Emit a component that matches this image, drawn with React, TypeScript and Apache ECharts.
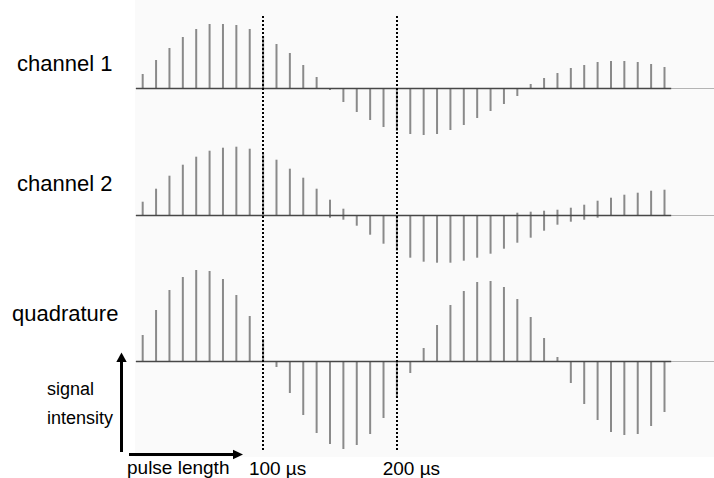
import React, { useEffect, useRef } from "react";
import * as echarts from "echarts";

// pulse length (µs) of each experiment
const pulseLengths = [
  10, 20, 30, 40, 50, 60, 70, 80, 90, 100,
  110, 120, 130, 140, 150, 160, 170, 180, 190, 200,
  210, 220, 230, 240, 250, 260, 270, 280, 290, 300,
  310, 320, 330, 340, 350, 360, 370, 380, 390, 400,
];

// signal intensity (arbitrary units)
const channel1 = [
  14, 28, 40, 51, 59, 64, 64, 63, 59, 52,
  44, 35, 23, 11, -2, -14, -24, -32, -39, -43,
  -46, -47, -46, -42, -37, -30, -23, -16, -8, 4,
  10, 15, 20, 23, 26, 27, 27, 26, 24, 21,
];
const channel2 = [
  14, 27, 40, 51, 59, 65, 68, 69, 67, 62,
  56, 47, 38, 27, 16, 7, -10, -19, -28, -35,
  -42, -46, -47, -47, -45, -42, -38, -33, -27, -22,
  -15, -9, 8, 11, 15, 18, 21, 23, 25, 26,
];
// opposite-sign (dispersive) part of the channel 2 lines
const channel2Dispersive = [
  0, 0, 0, 0, 0, 0, 0, 0, 0, 0,
  0, 0, 0, 0, -2, -4, 0, 0, 0, 0,
  0, 0, 0, 0, 0, 0, 0, 0, 3, 4,
  5, 6, -6, -4, -2, 0, 0, 0, 0, 0,
];
const quadrature = [
  26, 51, 71, 84, 91, 90, 82, 66, 45, 22,
  -6, -32, -54, -72, -83, -88, -84, -73, -57, -37,
  -12, 13, 36, 56, 70, 79, 80, 74, 62, 44,
  23, 4, -22, -43, -59, -71, -74, -73, -65, -51,
];

const rowLabels = ["channel 1", "channel 2", "quadrature"];
const markerTimes = [100, 200];
const markerUnit = "µs";
const xAxisTitle = "pulse length";
const yAxisTitle = ["signal", "intensity"];

const FONT = '"Liberation Sans", Arial, Helvetica, sans-serif';
const X_MIN = 5;
const X_MAX = 437;
const BASE_END = 405;
const SPIKE = "#8a8a8a";
const BASE = "#474747";

export default function App() {
  const ref = useRef<HTMLDivElement>(null);

  useEffect(() => {
    if (!ref.current) return;
    const chart = echarts.init(ref.current, null, { renderer: "svg" });

    const pts = (vals: number[]) => pulseLengths.map((t, i) => [t, vals[i]]);

    const rows = [
      { top: 18, height: 130, min: -60, max: 70 },
      { top: 145.7, height: 130, min: -60, max: 70 },
      { top: 261, height: 200, min: -100, max: 100 },
    ];

    const grids: any[] = rows.map((r) => ({
      left: 136,
      width: 578,
      top: r.top,
      height: r.height,
    }));
    grids.push({ left: 136, width: 578, top: 15, height: 437 });

    const xAxes: any[] = rows.map((_, i) => ({
      type: "value",
      gridIndex: i,
      min: X_MIN,
      max: X_MAX,
      axisLine: { show: true, onZero: true, lineStyle: { color: "#b4b4b4", width: 1 } },
      axisTick: { show: false },
      axisLabel: { show: false },
      splitLine: { show: false },
    }));
    xAxes.push({
      type: "value",
      gridIndex: 3,
      min: X_MIN,
      max: X_MAX,
      axisLine: { show: false },
      axisTick: { show: false },
      splitLine: { show: false },
      axisLabel: {
        show: true,
        customValues: markerTimes,
        margin: 9,
        formatter: (v: number) => `{pad|}{v|${v} ${markerUnit}}`,
        rich: {
          pad: { width: 29 },
          v: { fontFamily: FONT, fontSize: 19, color: "#000" },
        },
      },
    });

    const yAxes: any[] = rows.map((r, i) => ({
      type: "value",
      gridIndex: i,
      min: r.min,
      max: r.max,
      show: false,
    }));
    yAxes.push({ type: "value", gridIndex: 3, min: 0, max: 1, show: false });

    const baseLine = {
      silent: true,
      symbol: "none",
      label: { show: false },
      lineStyle: { color: BASE, width: 1.3, type: "solid" },
      data: [[{ coord: [X_MIN, 0] }, { coord: [BASE_END, 0] }]],
    };

    const barSeries = (name: string, idx: number, vals: number[], withBase: boolean) => ({
      name,
      type: "bar",
      xAxisIndex: idx,
      yAxisIndex: idx,
      barWidth: 2,
      barGap: "-100%",
      itemStyle: { color: SPIKE },
      data: pts(vals),
      ...(withBase ? { markLine: baseLine } : {}),
      z: 3,
    });

    const series: any[] = [
      barSeries("channel 1", 0, channel1, true),
      barSeries("channel 2", 1, channel2, true),
      barSeries("channel 2 dispersive", 1, channel2Dispersive, false),
      barSeries("quadrature", 2, quadrature, true),
      {
        type: "line",
        xAxisIndex: 3,
        yAxisIndex: 3,
        data: [],
        markLine: {
          silent: true,
          symbol: "none",
          label: { show: false },
          lineStyle: { color: "#000", width: 2, type: [2, 2] },
          data: markerTimes.map((t) => ({ xAxis: t })),
        },
        z: 5,
      },
    ];

    const labelY = [63, 183, 313];
    const graphic: any[] = [
      {
        type: "rect",
        z: -10,
        shape: { x: 135, y: 0, width: 579, height: 457 },
        style: { fill: "#fafafa" },
      },
      ...rowLabels.map((txt, i) => ({
        type: "text",
        x: i === 2 ? 12 : 17,
        y: labelY[i],
        style: {
          text: txt,
          fontFamily: FONT,
          fontSize: 22,
          fill: "#000",
          verticalAlign: "middle",
        },
      })),
      {
        type: "text",
        x: 47,
        y: 389,
        style: { text: yAxisTitle[0], fontFamily: FONT, fontSize: 18, fill: "#000", verticalAlign: "middle" },
      },
      {
        type: "text",
        x: 47,
        y: 418,
        style: { text: yAxisTitle[1], fontFamily: FONT, fontSize: 18, fill: "#000", verticalAlign: "middle" },
      },
      {
        type: "text",
        x: 127,
        y: 467,
        style: { text: xAxisTitle, fontFamily: FONT, fontSize: 19, fill: "#000", verticalAlign: "middle" },
      },
      {
        type: "line",
        shape: { x1: 121.5, y1: 452, x2: 121.5, y2: 360 },
        style: { stroke: "#000", lineWidth: 3 },
      },
      {
        type: "polygon",
        shape: { points: [[121.5, 352.5], [116.3, 362], [126.7, 362]] },
        style: { fill: "#000" },
      },
      {
        type: "line",
        shape: { x1: 129, y1: 454.5, x2: 235, y2: 454.5 },
        style: { stroke: "#000", lineWidth: 3 },
      },
      {
        type: "polygon",
        shape: { points: [[243, 454.5], [233, 449.7], [233, 459.3]] },
        style: { fill: "#000" },
      },
    ];

    chart.setOption({
      animation: false,
      backgroundColor: "#ffffff",
      grid: grids,
      xAxis: xAxes,
      yAxis: yAxes,
      series,
      graphic,
    });

    return () => chart.dispose();
  }, []);

  return (
    <div
      ref={ref}
      style={{ position: "fixed", left: 0, top: 0, width: 714, height: 478 }}
    />
  );
}
